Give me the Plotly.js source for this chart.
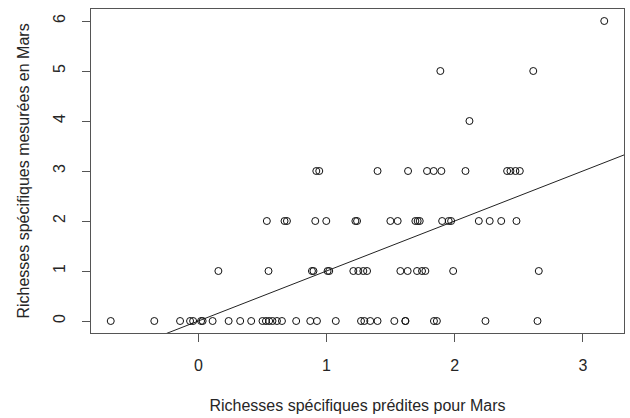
<!DOCTYPE html>
<html>
<head>
<meta charset="utf-8">
<script src="https://cdn.plot.ly/plotly-3.0.1.min.js"></script>
<style>html,body{margin:0;padding:0;background:#fff;}#chart{width:630px;height:418px;}</style>
</head>
<body>
<div id="chart"></div>
<script>
// Predicted richness (x) grouped by measured richness (y)
const predY0 = [-0.684,-0.344,-0.143,-0.065,-0.041,0.021,0.033,0.111,0.236,0.326,0.412,0.500,0.527,0.552,0.578,0.613,0.652,0.763,0.873,0.925,1.072,1.269,1.295,1.341,1.398,1.529,1.615,1.615,1.838,1.861,2.240,2.646];
const predY1 = [0.156,0.547,0.886,0.898,1.008,1.021,1.209,1.248,1.287,1.316,1.576,1.633,1.706,1.745,1.771,1.988,2.656];
const predY2 = [0.534,0.672,0.691,0.912,0.998,1.225,1.238,1.498,1.555,1.693,1.711,1.727,1.902,1.953,1.972,2.188,2.273,2.363,2.482];
const predY3 = [0.920,0.943,1.398,1.636,1.784,1.836,1.896,2.084,2.409,2.435,2.474,2.508];
const predY4 = [2.115];
const predY5 = [1.888,2.613];
const predY6 = [3.167];
const measuredLevels = [0,1,2,3,4,5,6];
// reference line y = a + b*x (1:1 line)
const lineIntercept = 0;
const lineSlope = 1;
const xTicks = [0,1,2,3];
const yTicks = [0,1,2,3,4,5,6];
const xTitle = "Richesses spécifiques prédites pour Mars";
const yTitle = "Richesses spécifiques mesurées en Mars";

const groups = [predY0,predY1,predY2,predY3,predY4,predY5,predY6];
const xs = [], ys = [];
groups.forEach((g,i)=>{ g.forEach(v=>{ xs.push(v); ys.push(measuredLevels[i]); }); });

// R-like 4% range extension
const xmin = Math.min(...xs), xmax = Math.max(...xs);
const ymin = Math.min(...ys), ymax = Math.max(...ys);
const xr = [xmin-0.04*(xmax-xmin), xmax+0.04*(xmax-xmin)];
const yr = [ymin-0.04*(ymax-ymin), ymax+0.04*(ymax-ymin)];

const pts = {
  x: xs, y: ys, type: 'scatter', mode: 'markers',
  marker: {symbol: 'circle-open', size: 7, color: '#111', line: {width: 1, color: '#111'}},
  hoverinfo: 'skip', showlegend: false, cliponaxis: false
};
const fit = {
  x: xr, y: xr.map(v=>lineIntercept+lineSlope*v), type: 'scatter', mode: 'lines',
  line: {color: '#222', width: 1}, hoverinfo: 'skip', showlegend: false
};

const fam = '"Liberation Sans", Arial, sans-serif';
const txt = '#262626';
const layout = {
  width: 630, height: 418,
  margin: {l: 91, r: 6, t: 9, b: 85},
  paper_bgcolor: '#fff', plot_bgcolor: '#fff',
  font: {family: fam, size: 16, color: txt},
  showlegend: false,
  xaxis: {
    range: xr, tickvals: xTicks, ticktext: xTicks.map(String),
    showgrid: false, zeroline: false,
    showline: true, mirror: true, linecolor: '#555', linewidth: 1,
    ticks: 'outside', ticklen: 8, tickcolor: '#555', tickwidth: 1,
    ticklabelstandoff: 10,
    tickfont: {family: fam, size: 16, color: txt},
    title: {text: xTitle, standoff: 26, font: {family: fam, size: 16, color: txt}},
    automargin: false
  },
  yaxis: {
    range: yr, tickvals: yTicks, ticktext: yTicks.map(String),
    showgrid: false, zeroline: false,
    showline: true, mirror: true, linecolor: '#555', linewidth: 1,
    ticks: 'outside', ticklen: 8, tickcolor: '#555', tickwidth: 1,
    tickangle: -90, ticklabelstandoff: 11,
    tickfont: {family: fam, size: 16, color: txt},
    title: {text: yTitle, standoff: 16, font: {family: fam, size: 16, color: txt}},
    automargin: false
  }
};
Plotly.newPlot('chart', [fit, pts], layout, {staticPlot: true, displayModeBar: false});
</script>
</body>
</html>
